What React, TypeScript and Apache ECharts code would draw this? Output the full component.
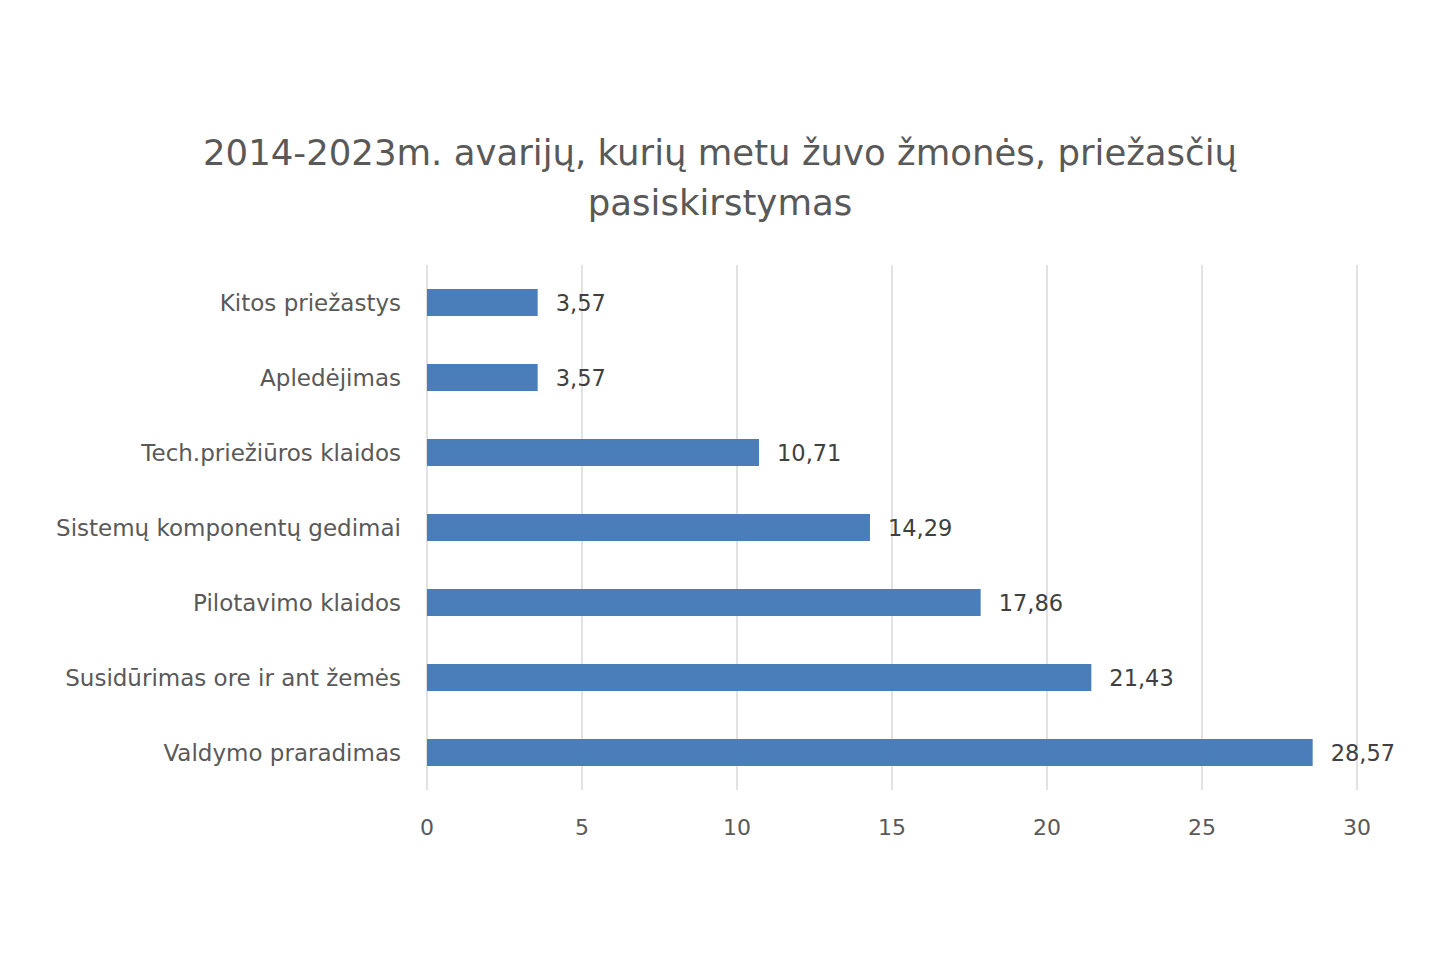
import React, { useEffect, useRef } from "react";
import * as echarts from "echarts";

const categories = [
  "Valdymo praradimas",
  "Susidūrimas ore ir ant žemės",
  "Pilotavimo klaidos",
  "Sistemų komponentų gedimai",
  "Tech.priežiūros klaidos",
  "Apledėjimas",
  "Kitos priežastys",
];
const values = [28.57, 21.43, 17.86, 14.29, 10.71, 3.57, 3.57];
const titleText = "2014-2023m. avarijų, kurių metu žuvo žmonės, priežasčių\npasiskirstymas";

const FONT = "DejaVu Sans";

export default function App() {
  const ref = useRef<HTMLDivElement>(null);
  useEffect(() => {
    const chart = echarts.init(ref.current!, null, { renderer: "svg" });
    chart.setOption({
      animation: false,
      backgroundColor: "#ffffff",
      textStyle: { fontFamily: FONT },
      title: {
        text: titleText,
        left: "center",
        top: 122,
        textStyle: {
          fontFamily: FONT,
          fontSize: 35.5,
          fontWeight: "normal",
          color: "#595959",
          lineHeight: 50,
        },
      },
      grid: { left: 427, right: 83, top: 265, bottom: 170, containLabel: false },
      xAxis: {
        type: "value",
        min: 0,
        max: 30,
        interval: 5,
        axisLine: { show: false },
        axisTick: { show: false },
        splitLine: { lineStyle: { color: "#d9d9d9", width: 1.5 } },
        axisLabel: { color: "#595959", fontSize: 22, margin: 26, fontFamily: FONT },
      },
      yAxis: {
        type: "category",
        data: categories,
        axisLine: { show: false },
        axisTick: { show: false },
        axisLabel: { color: "#595959", fontSize: 23, margin: 26, fontFamily: FONT },
      },
      series: [
        {
          type: "bar",
          data: values,
          barWidth: 27,
          itemStyle: { color: "#4a7ebb" },
          label: {
            show: true,
            position: "right",
            distance: 18,
            color: "#404040",
            fontSize: 22.5,
            fontFamily: FONT,
            formatter: (p: any) => p.value.toFixed(2).replace(".", ","),
          },
        },
      ],
    });
    return () => chart.dispose();
  }, []);
  return (
    <div
      ref={ref}
      style={{ position: "fixed", left: 0, top: 0, width: 1440, height: 960 }}
    />
  );
}
